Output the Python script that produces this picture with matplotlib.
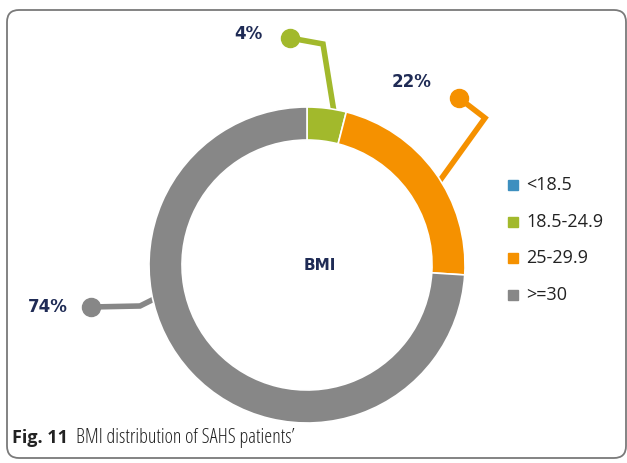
import matplotlib
matplotlib.use("Agg")
import numpy as np
import matplotlib.pyplot as plt
from matplotlib.patches import FancyBboxPatch

# data
categories = ["<18.5", "18.5-24.9", "25-29.9", ">=30"]
shares = [0, 4, 22, 74]
colors = ["#3d8fbf", "#a2b92c", "#f59100", "#878787"]
center_label = "BMI"
caption_bold = "Fig. 11"
caption_text = "BMI distribution of SAHS patients\u2019"

W, H = 627, 463
NAVY = "#1f2b55"
CAP_FONT = ["Open Sans", "DejaVu Sans"]

fig = plt.figure(figsize=(W / 100, H / 100), dpi=100)
ax = fig.add_axes([0, 0, 1, 1])


def py(y):
    # pixel row -> data y
    return H - y


# donut
cx, cy, r = 307, py(265), 158
ax.pie(shares, colors=colors, startangle=90, counterclock=False,
       center=(cx, cy), radius=r, frame=True,
       wedgeprops=dict(width=33, edgecolor="white", linewidth=1.2))
ax.set_xlim(0, W)
ax.set_ylim(0, H)
ax.set_aspect("equal")
ax.axis("off")

# frame
frame = FancyBboxPatch((7, py(458)), 619, 448, boxstyle="round,pad=0,rounding_size=12",
                       fill=False, edgecolor="#7a7a7a", linewidth=1.3)
ax.add_patch(frame)

ax.text(cx + 13, cy, center_label, ha="center", va="center", fontsize=11,
        fontweight="bold", color=NAVY)

# leader lines: (path in pixel coords, label position)
leaders = {
    1: ([(334, 112), (323, 44), (290, 38)], (248, 34)),
    2: ([(436, 186), (485, 118), (459, 98)], (412, 82)),
    3: ([(158, 297), (140, 306), (91, 307)], (48, 307)),
}
for i, (path, lab) in leaders.items():
    xs = [p[0] for p in path]
    ys = [py(p[1]) for p in path]
    ax.plot(xs, ys, color=colors[i], linewidth=4, solid_capstyle="butt",
            solid_joinstyle="miter", zorder=0.5)
    ax.plot(xs[-1], ys[-1], "o", color=colors[i], markersize=13)
    ax.text(lab[0], py(lab[1]), f"{shares[i]}%", ha="center", va="center",
            fontsize=12, fontweight="bold", color=NAVY)

# legend
leg_y = [185, 222, 258, 295]
for name, col, y in zip(categories, colors, leg_y):
    ax.add_patch(plt.Rectangle((508, py(y) - 5), 10, 10, color=col))
    ax.text(526, py(y), name, ha="left", va="center", fontsize=13,
            color="#222222", family=["Open Sans", "DejaVu Sans"])

# caption
t = ax.text(12, py(438), caption_bold, ha="left", va="center", fontsize=13,
            fontweight="bold", color="#222222", family=CAP_FONT)
fig.canvas.draw()
bb = t.get_window_extent()
ax.text(bb.x1 + 8, py(438), caption_text, ha="left", va="center", fontsize=14.5,
        color="#222222", family=CAP_FONT, fontstretch="condensed")

fig.savefig("out.png", dpi=100)
